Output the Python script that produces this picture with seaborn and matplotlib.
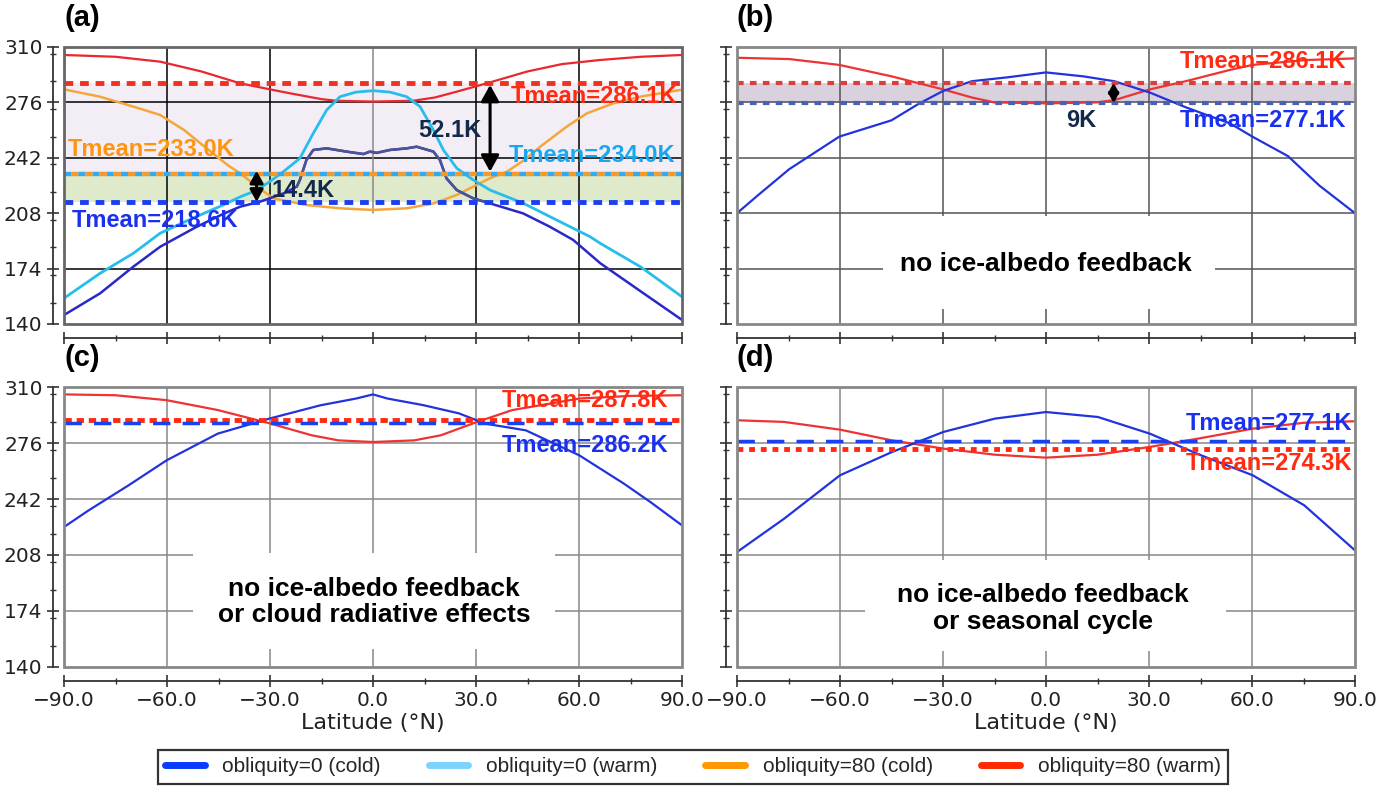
#!/usr/bin/env python3
"""
Zonal-mean surface temperature vs latitude, four sensitivity panels
"""

import numpy as np
import pandas as pd
import seaborn as sns
import matplotlib.pyplot as plt
from matplotlib.lines import Line2D
from matplotlib.patches import Rectangle
from matplotlib.ticker import MultipleLocator

# ---- panel (a): full model, four climate states ----
a_cold0_lat = [-90, -79.5, -69.8, -62, -51.5, -43.7, -38.7, -33, -26, -22.2, -21.3, -19.4, -17.4,
               -13.5, -7.7, -2.8, -0.9, 1.0, 4.9, 9.8, 12.7, 17.6, 19.5, 21.4, 24.4, 29.2, 34.1,
               43.7, 51.5, 58.3, 66.2, 78, 90]
a_cold0_t = [145.5, 158.8, 175.2, 187.4, 199.5, 207.5, 212, 215, 220.2, 224.3, 228.4, 240.6, 246.8,
             247.8, 245.8, 244.3, 245.8, 245.0, 246.8, 247.8, 248.8, 245.8, 240.6, 229.4, 222.2, 217.1, 214.0,
             207.9, 199.7, 191.6, 177.3, 160, 142.5]

a_warm0_lat = [-90, -79.5, -69.8, -62, -53.5, -43.7, -38.7, -34, -30, -26.1, -21.3, -17.4, -13.5, -9.6,
               -5, 0, 5, 9.8, 13.7, 17.6, 20.5, 24.4, 29.2, 34.1, 43.7, 53.5, 63.2, 66.2, 78, 90]
a_warm0_t = [155.8, 171.1, 183.4, 195.7, 204, 213, 218, 222, 227.5, 233.5, 241.7, 257, 271.3, 279.5,
             282.3, 283.2, 282.3, 279.5, 273.4, 259, 246.8, 235.6, 228.4, 222.2, 214.2, 203.8, 193.6, 189.5, 175, 156.7]

a_cold80_lat = [-90, -79.5, -69.8, -62, -55, -48, -42, -38.7, -33.8, -29, -19.3, -9.6, 0, 9.8, 17.6,
                24.4, 29.2, 34.1, 39, 44, 48.7, 56.4, 62.3, 70, 77.8, 90]
a_cold80_t = [284, 279.5, 273.4, 268.3, 259, 247, 237, 232.5, 224.3, 217.1, 213, 211, 210, 211, 214,
              219.2, 224.3, 229.5, 233.5, 240.5, 248.8, 261.1, 269.3, 275.4, 279.5, 283.8]

a_warm80_lat = [-90, -75, -62, -50, -38.7, -30, -24.2, -15, -10.6, 0, 11.7, 18, 24.4, 33.1, 45, 55, 66, 78, 90]
a_warm80_t = [305.1, 304, 301, 295, 287.7, 284, 281.6, 278, 277, 276.5, 277, 279, 282.6, 287.7, 295,
              299.5, 302, 304, 305.1]

a_mean_red, a_mean_mid, a_mean_blue = 287.7, 232.2, 215.1

# ---- panel (b): no ice-albedo feedback ----
b_lat_cold = [-90, -83.9, -74.8, -60.2, -45, -37.2, -30, -21.6, -11.2, 0, 10.8, 19.9, 30.3, 40.7,
              53.7, 60.1, 70.5, 79.6, 90]
b_cold_t = [208, 219, 235, 255, 265, 275, 283, 289, 291.4, 294.4, 292, 289, 282, 273, 263, 255, 243, 225, 208]
b_lat_warm = [-90, -74.8, -60.2, -45, -30, -21.6, -15.1, 0, 14.7, 19.9, 30.3, 40.7, 53.7, 60.1, 75.7, 90]
b_warm_t = [303.4, 302.6, 299, 292, 284, 279, 276, 275.4, 276, 277.4, 284, 289, 296, 299, 302, 303]
b_mean_red, b_mean_blue = 288.0, 275.6

# ---- panel (c): no ice-albedo feedback or cloud radiative effects ----
c_lat_warm = [-90, -75.1, -60.1, -45.2, -30.2, -17.9, -10.1, 0, 12, 19.8, 30.2, 40.6, 60.1, 75, 90]
c_warm_t = [305.5, 305, 302, 296, 288, 280.7, 277.6, 276.6, 277.6, 280.7, 288.7, 296, 303, 304.6, 305]
c_lat_cold = [-90, -82.9, -71.2, -60.1, -45.2, -30.2, -15.3, -4.9, 0, 4.2, 14.6, 25, 32.8, 44.5,
              60.1, 73.1, 80.9, 90]
c_cold_t = [225, 235, 250.3, 265.5, 281.7, 290.8, 298.9, 303, 305.5, 303, 299, 294, 287.7, 283.7,
            268.5, 251.3, 240, 226]
c_mean_red, c_mean_blue = 289.8, 288.3

# ---- panel (d): no ice-albedo feedback or seasonal cycle ----
d_lat = [-90, -76.3, -60, -44.9, -29.9, -14.9, 0, 15.1, 30.2, 45.2, 60.2, 75.2, 90]
d_warm_t = [289.8, 288.8, 284.1, 277.6, 272.6, 268.9, 267.1, 268.9, 273.6, 279, 284.7, 288.3, 289.2]
d_cold_t = [209.8, 230, 256.4, 270.5, 282.7, 290.8, 294.8, 291.8, 281.7, 268.5, 256.4, 238.2, 210.8]
d_mean_blue, d_mean_red = 277.0, 272.2

y_ticks = [140, 174, 208, 242, 276, 310]
x_ticks = [-90, -60, -30, 0, 30, 60, 90]
legend_labels = ['obliquity=0 (cold)', 'obliquity=0 (warm)', 'obliquity=80 (cold)', 'obliquity=80 (warm)']
legend_colors = ['#0a3cff', '#7dd3ff', '#ff9900', '#ff2a00']

BOLD = dict(family='Liberation Sans', fontweight='bold')
RED_T, BLUE_T, LBLUE_T, ORANGE_T, NAVY_T = '#ff2a10', '#1a30f0', '#18a8f0', '#ff9410', '#13294b'


def curve(ax, lat, temp, color, lw=1.6):
    df = pd.DataFrame({'lat': lat, 'T': temp})
    sns.lineplot(data=df, x='lat', y='T', ax=ax, color=color, linewidth=lw,
                 sort=False, estimator=None, zorder=3)


def style_axes(ax, grid_color, box_color, skip_h=(), zero_top=None):
    ax.set_xlim(-90, 90)
    ax.set_ylim(140, 310)
    for t in y_ticks[1:-1]:
        if t not in skip_h:
            ax.axhline(t, color=grid_color, lw=1.1, zorder=0.5)
    for t in x_ticks[1:-1]:
        if t == 0 and zero_top is not None:
            ax.plot([0, 0], [zero_top, 310], color='#888888', lw=1.1, zorder=0.5)
        else:
            ax.axvline(t, color=grid_color, lw=1.1, zorder=0.5)
    ax.add_patch(Rectangle((0, 0), 1, 1, transform=ax.transAxes, fill=False,
                           edgecolor=box_color, lw=2.0, clip_on=False, zorder=5))


def finish_axes(ax, show_x, show_y):
    ax.set_xlim(-90, 90)
    ax.set_ylim(140, 310)
    ax.set_xticks(x_ticks)
    ax.set_yticks(y_ticks)
    ax.xaxis.set_minor_locator(MultipleLocator(15))
    ax.yaxis.set_minor_locator(MultipleLocator(17))
    ax.tick_params(which='both', left=True, bottom=True, top=False, right=False)
    ax.tick_params(which='major', direction='inout', length=9, width=1.2, color='#333333',
                   labelsize=14.5, pad=3, labelcolor='#222222')
    ax.tick_params(which='minor', direction='inout', length=4, width=1.0, color='#333333')
    ax.spines['top'].set_visible(False)
    ax.spines['right'].set_visible(False)
    ax.spines['left'].set_position(('outward', 8))
    ax.spines['bottom'].set_position(('outward', 10))
    for s in ('left', 'bottom'):
        ax.spines[s].set_visible(True)
        ax.spines[s].set_color('#333333')
        ax.spines[s].set_linewidth(1.3)
    if show_x:
        ax.set_xticklabels([f'{v:.1f}'.replace('-', '\u2212') for v in x_ticks])
        ax.set_xlabel('Latitude (\u00b0N)', fontsize=16, labelpad=2, color='#222222')
    else:
        ax.set_xticklabels([])
        ax.set_xlabel('')
    if show_y:
        ax.set_yticklabels([str(v) for v in y_ticks])
    else:
        ax.set_yticklabels([])
    ax.set_ylabel('')


def white_box(ax, x0, x1, y0, y1):
    ax.add_patch(Rectangle((x0, y0), x1 - x0, y1 - y0, facecolor='white',
                           edgecolor='none', zorder=0.8))


def vert_arrow(ax, lat, lo, hi, head=20):
    ax.annotate('', xy=(lat, hi), xytext=(lat, lo),
                arrowprops=dict(arrowstyle='<|-|>,head_length=0.45,head_width=0.25', color='black',
                                lw=2.2, mutation_scale=head, shrinkA=0, shrinkB=0), zorder=6)


def main():
    sns.set_theme(style='white')
    plt.rcParams['font.family'] = ['DejaVu Sans']

    fig = plt.figure(figsize=(13.92, 7.89), dpi=100)
    W, H = 1392, 789
    ax_a = fig.add_axes([64 / W, 1 - 324 / H, 618 / W, 277 / H])
    ax_b = fig.add_axes([737 / W, 1 - 324 / H, 618 / W, 277 / H])
    ax_c = fig.add_axes([64 / W, 1 - 667 / H, 618 / W, 280 / H])
    ax_d = fig.add_axes([737 / W, 1 - 667 / H, 618 / W, 280 / H])

    # ---------- (a) ----------
    ax = ax_a
    ax.axhspan(a_mean_mid, a_mean_red, color='#f3eef6', zorder=0.2, lw=0)
    ax.axhspan(a_mean_blue, a_mean_mid, color='#dfeacb', zorder=0.2, lw=0)
    style_axes(ax, '#000000', '#666666', skip_h=(208,), zero_top=208)
    curve(ax, a_warm80_lat, a_warm80_t, '#e8282e')
    curve(ax, a_cold80_lat, a_cold80_t, '#f4a63a', lw=1.8)
    curve(ax, a_warm0_lat, a_warm0_t, '#27bdec', lw=2.0)
    curve(ax, a_cold0_lat, a_cold0_t, '#2a28c8', lw=1.8)
    lat_arr, t_arr = np.array(a_cold0_lat), np.array(a_cold0_t)
    mid = (lat_arr >= -22.2) & (lat_arr <= 34.1)
    curve(ax, lat_arr[mid], t_arr[mid], '#4c5592', lw=1.8)
    ax.axhline(a_mean_red, color='#f03020', lw=3.5, ls=(0, (1.8, 1.4)), zorder=4)
    ax.axhline(a_mean_mid, color='#33aaee', lw=3.2, ls=(0, (1.6, 1.6)), zorder=4)
    ax.axhline(a_mean_mid, color='#f59a2a', lw=3.2, ls=(1.6, (1.6, 1.6)), zorder=4)
    ax.axhline(a_mean_blue, color='#1a3ef0', lw=3.5, ls=(0, (1.8, 1.4)), zorder=4)
    vert_arrow(ax, 34.1, 233.5, 286.7, head=22)
    vert_arrow(ax, -33.9, 215.0, 234.0, head=16)
    ax.text(88.6, 279.5, 'Tmean=286.1K', color=RED_T, fontsize=17, ha='right', va='center', zorder=7, **BOLD)
    ax.text(-88.8, 246.8, 'Tmean=233.0K', color=ORANGE_T, fontsize=17, ha='left', va='center', zorder=7, **BOLD)
    ax.text(88.0, 243.7, 'Tmean=234.0K', color=LBLUE_T, fontsize=17, ha='right', va='center', zorder=7, **BOLD)
    ax.text(-87.8, 203.8, 'Tmean=218.6K', color=BLUE_T, fontsize=17, ha='left', va='center', zorder=7, **BOLD)
    ax.text(31.6, 259.0, '52.1K', color=NAVY_T, fontsize=17, ha='right', va='center', zorder=7, **BOLD)
    ax.text(-29.5, 222.2, '14.4K', color=NAVY_T, fontsize=17, ha='left', va='center', zorder=7, **BOLD)
    finish_axes(ax, False, True)

    # ---------- (b) ----------
    ax = ax_b
    ax.axhspan(b_mean_blue, b_mean_red, color='#d9d1de', zorder=0.2, lw=0)
    style_axes(ax, '#555555', '#888888')
    white_box(ax, -47.6, 49.1, 149, 206)
    curve(ax, b_lat_warm, b_warm_t, '#ee3333')
    curve(ax, b_lat_cold, b_cold_t, '#2233dd')
    ax.axhline(b_mean_red, color='#d84040', lw=3.0, ls=(0, (1.6, 1.5)), zorder=4)
    ax.axhline(b_mean_blue, color='#4a60b0', lw=3.0, ls=(0, (1.6, 1.5)), zorder=4)
    vert_arrow(ax, 19.7, 275.6, 288.0, head=12)
    ax.text(87.4, 301.0, 'Tmean=286.1K', color=RED_T, fontsize=17, ha='right', va='center', zorder=7, **BOLD)
    ax.text(87.4, 265.0, 'Tmean=277.1K', color=BLUE_T, fontsize=17, ha='right', va='center', zorder=7, **BOLD)
    ax.text(14.7, 265.0, '9K', color=NAVY_T, fontsize=17, ha='right', va='center', zorder=7, **BOLD)
    ax.text(0.1, 176.6, 'no ice-albedo feedback', color='black', fontsize=19,
            ha='center', va='center', zorder=7, **BOLD)
    finish_axes(ax, False, False)

    # ---------- (c) ----------
    ax = ax_c
    style_axes(ax, '#888888', '#888888')
    white_box(ax, -52.3, 53.0, 151, 209.5)
    curve(ax, c_lat_warm, c_warm_t, '#ee3333')
    curve(ax, c_lat_cold, c_cold_t, '#2233dd')
    ax.axhline(c_mean_red, color='#ff2a10', lw=3.5, ls=(0, (1.5, 1.0)), zorder=4)
    ax.axhline(c_mean_blue, color='#1a40f0', lw=2.5, ls=(0, (5, 3.5)), zorder=4)
    ax.text(86.1, 301.9, 'Tmean=287.8K', color=RED_T, fontsize=17, ha='right', va='center', zorder=7, **BOLD)
    ax.text(86.1, 274.6, 'Tmean=286.2K', color=BLUE_T, fontsize=17, ha='right', va='center', zorder=7, **BOLD)
    ax.text(0.3, 179.5, 'no ice-albedo feedback\nor cloud radiative effects', color='black',
            fontsize=19, ha='center', va='center', linespacing=1.15, zorder=7, **BOLD)
    finish_axes(ax, True, True)

    # ---------- (d) ----------
    ax = ax_d
    style_axes(ax, '#888888', '#888888')
    white_box(ax, -52.8, 52.3, 150, 205)
    curve(ax, d_lat, d_warm_t, '#ee3333')
    curve(ax, d_lat, d_cold_t, '#2233dd')
    ax.axhline(d_mean_blue, color='#1a40f0', lw=2.5, ls=(0, (5, 3.5)), zorder=4)
    ax.axhline(d_mean_red, color='#ff2a10', lw=3.5, ls=(0, (1.2, 1.2)), zorder=4)
    ax.text(89.2, 287.7, 'Tmean=277.1K', color=BLUE_T, fontsize=17, ha='right', va='center', zorder=7, **BOLD)
    ax.text(89.2, 263.5, 'Tmean=274.3K', color=RED_T, fontsize=17, ha='right', va='center', zorder=7, **BOLD)
    ax.text(-0.85, 175.6, 'no ice-albedo feedback\nor seasonal cycle', color='black',
            fontsize=19, ha='center', va='center', linespacing=1.15, zorder=7, **BOLD)
    finish_axes(ax, True, False)

    # panel letters
    for ax, letter in zip([ax_a, ax_b, ax_c, ax_d], ['(a)', '(b)', '(c)', '(d)']):
        ax.text(0.0, 1.105, letter, transform=ax.transAxes, fontsize=21, ha='left',
                va='center', color='black', **BOLD)

    # legend
    handles = [Line2D([], [], color=c, lw=5) for c in legend_colors]
    leg = fig.legend(handles, legend_labels, loc='center', ncol=4,
                     bbox_to_anchor=(693 / W, 1 - 767 / H), frameon=True, fancybox=False,
                     prop=dict(family='Liberation Sans', size=15), handlelength=1.9,
                     handletextpad=0.85, columnspacing=2.3, borderpad=0.35)
    leg.get_frame().set_edgecolor('black')
    leg.get_frame().set_linewidth(1.6)

    fig.savefig('out.png', dpi=100)


if __name__ == '__main__':
    main()
